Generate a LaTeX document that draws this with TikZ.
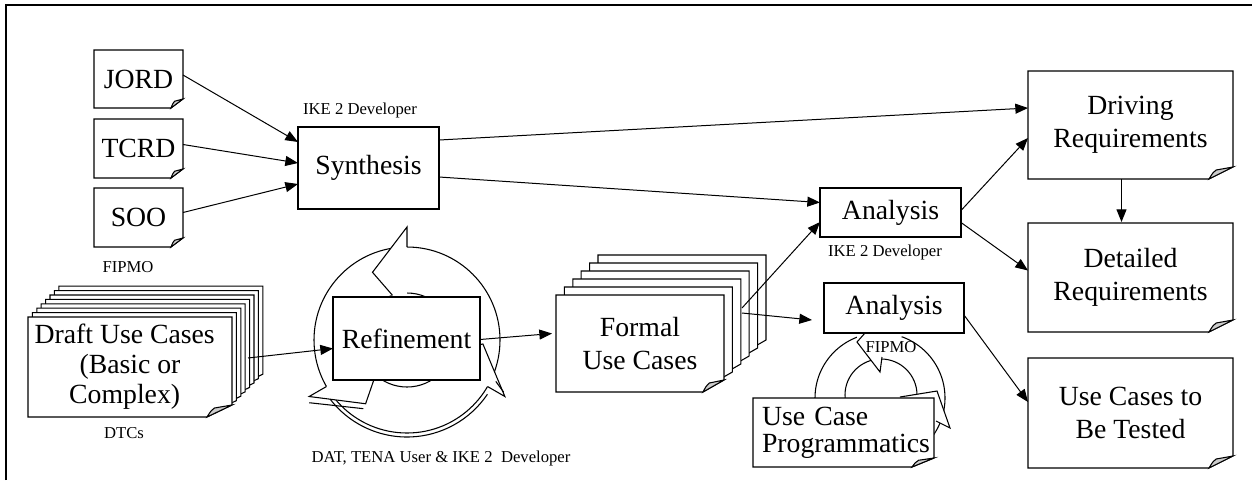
\documentclass[tikz,border=0pt]{standalone}
\usepackage{fontspec}
\setmainfont{Liberation Serif}
\usetikzlibrary{arrows.meta,calc}
\pgfdeclarelayer{bg}
\pgfsetlayers{bg,main}
\definecolor{foldgray}{gray}{0.8}
\tikzset{
  pxbox/.style n args={4}{minimum width={(#3-#1)*0.75pt}, minimum height={(#4-#2)*0.75pt}, at={({(#1+#3)/2},{(#2+#4)/2})}},
  basetext/.style={inner sep=0pt, outer sep=0pt, align=center, font=\fontsize{20.8}{25}\selectfont},
  procbox/.style={basetext, draw, fill=white, line width=0.8pt},
  docnode/.style={basetext},
  lbl/.style={inner sep=0pt, font=\fontsize{12.5}{14}\selectfont},
  conn/.style={line width=0.75pt, -{Triangle[length=9.5pt,width=7.5pt]}},
  docline/.style={line width=0.8pt, line join=miter},
  cyc/.style={line width=0.8pt},
}
% document frame (outline with cut corner) for node #1, shifted by (#2,#3), fold size #4 x #5
\newcommand\docframe[5]{%
  \path ($(#1.north west)+(#2,#3)$) coordinate (dA) ($(#1.south east)+(#2,#3)$) coordinate (dB);
  \draw[docline, fill=white] (dA) -- (dA -| dB) -- ($(dB)+(0,-#5)$) -- ($(dB)+(-#4,0)$) -- (dA |- dB) -- cycle;
}
\newcommand\docflap[3]{%
  \draw[docline, fill=foldgray] ($(#1.south east)+(-#2,0)$) .. controls ($(#1.south east)+(-0.85*#2,-0.5*#3)$) .. ($(#1.south east)+(-0.7*#2,-0.75*#3)$) -- ($(#1.south east)+(0,-#3)$) -- cycle;
}
\newcommand\padr{\hspace*{8pt}}
\begin{document}
\begin{tikzpicture}[x=0.75pt,y=-0.75pt]
\useasboundingbox (0,0) rectangle (1252,480);
\draw[line width=1.5pt] (6,480) -- (6,5) -- (1252,5);

% nodes
\node[docnode, pxbox={94}{50}{183}{108}] (jord) {JORD};
\node[docnode, pxbox={94}{119}{183}{178}] (tcrd) {TCRD};
\node[docnode, pxbox={94}{188}{183}{247}] (soo) {SOO};
\node[procbox, pxbox={298}{127}{439}{209}] (synth) {Synthesis};
\node[docnode, pxbox={28}{317}{232}{417}, font=\fontsize{20.8}{22.5}\selectfont] (draft) {Draft Use Cases\padr\\(Basic or\padr\\Complex)\padr};
\node[procbox, pxbox={333}{297}{480}{380}] (refine) {Refinement};
\node[docnode, pxbox={556}{295}{724}{392}] (formal) {Formal\\Use Cases};
\node[procbox, pxbox={820}{188}{961}{237}] (ana1) {Analysis};
\node[procbox, pxbox={824}{283}{964}{333}] (ana2) {Analysis};
\node[docnode, pxbox={753}{398}{934}{467}, align=left, text width={163*0.75pt}, inner xsep={9*0.75pt}, font=\fontsize{20.8}{20.5}\selectfont] (ucp) {Use Case\\Programmatics};
\node[docnode, pxbox={1028}{71}{1233}{179}] (driving) {Driving\\Requirements};
\node[docnode, pxbox={1028}{223}{1233}{332}] (detailed) {Detailed\\Requirements};
\node[docnode, pxbox={1028}{358}{1233}{468}] (tested) {Use Cases to\\Be Tested};

% labels
\node[lbl] (l1) at (360,110) {IKE 2 Developer};
\node[lbl] (l2) at (128,267) {FIPMO};
\node[lbl] (l3) at (124,433) {DTCs};
\node[lbl] (l4) at (441,458) {DAT, TENA User \& IKE 2\ \ Developer};
\node[lbl] (l5) at (885,252) {IKE 2 Developer};
\node[lbl] (l6) at (891,347) {FIPMO};

\begin{pgfonlayer}{bg}
  % big cycle around Refinement
  \coordinate (cA) at (407,340);
  \draw[cyc] (cA) circle[radius=93];
  \draw[cyc] (cA) circle[radius=47];
  \draw[cyc] ($(cA)+(-212:97)$) arc[start angle=-212, end angle=-326, radius=97];
  \foreach \t in {90,210,330}{
    \fill[white] ($(cA)+({-\t}:45)$) -- ($(cA)+({-\t}:113)$) -- ($(cA)+({-\t-27}:76)$) -- ($(cA)+({-\t-18}:45)$) arc[start angle={-\t-18}, end angle={-\t}, radius=45] -- cycle;
    \draw[cyc] ($(cA)+({-\t}:93)$) -- ($(cA)+({-\t}:113)$) -- ($(cA)+({-\t-27}:76)$) -- ($(cA)+({-\t-18}:47)$);
  }
  \draw[cyc] ($(cA)+(-211:114)+(0,4)$) -- ($(cA)+(-236:78)+(0,4)$);
  \draw[cyc] ($(cA)+(-331:114)+(-3,-3)$) -- ($(cA)+(-335:98)$);
  % small cycle under second Analysis
  \coordinate (cB) at (880,398);
  \coordinate (cB2) at (881,395);
  \draw[cyc] (cB) circle[radius=65];
  \draw[cyc] (cB2) circle[radius=36];
  \fill[white] (857,333) -- (857,342) -- (880,372) -- (882,357) -- (905,333) -- cycle;
  \draw[cyc] (865,333) -- (857,342) -- (880,372) -- (882,357);
  \fill[white] (900,397) -- (937,391) -- (950,428) -- (936,421) -- (920,410) -- cycle;
  \draw[cyc] (900,397) -- (937,391) -- (950,428) -- (936,421);

  % document frames
  \docframe{jord}{0}{0}{12}{9}\docflap{jord}{12}{9}
  \docframe{tcrd}{0}{0}{12}{9}\docflap{tcrd}{12}{9}
  \docframe{soo}{0}{0}{12}{9}\docflap{soo}{12}{9}
  \foreach \k in {7,6,...,1}{\docframe{draft}{4.4*\k}{-4.4*\k}{25}{12}}
  \docframe{draft}{0}{0}{25}{12}\docflap{draft}{25}{12}
  \foreach \k in {5,4,...,1}{\docframe{formal}{8.4*\k}{-8*\k}{21}{12}}
  \docframe{formal}{0}{0}{21}{12}\docflap{formal}{21}{12}
  \docframe{ucp}{0}{0}{22}{9}\docflap{ucp}{22}{9}
  \docframe{driving}{0}{0}{24}{12}\docflap{driving}{24}{12}
  \docframe{detailed}{0}{0}{24}{12}\docflap{detailed}{24}{12}
  \docframe{tested}{0}{0}{24}{12}\docflap{tested}{24}{12}
\end{pgfonlayer}

% connectors
\coordinate (draftout) at ($(draft.east)+(16,-9)$);
\coordinate (formalout1) at ($(formal.east)+(18,-35.5)$);
\coordinate (formalout2) at ($(formal.east)+(18,-30.5)$);
\draw[conn] ($(jord.east)+(0,-4)$) -- ($(synth.north west)+(0,15)$);
\draw[conn] ($(tcrd.east)+(0,-4)$) -- ($(synth.west)+(0,-5)$);
\draw[conn] ($(soo.east)+(0,-5)$) -- ($(synth.south west)+(0,-25)$);
\draw[conn] ($(synth.north east)+(0,13)$) -- ($(driving.north west)+(0,37)$);
\draw[conn] ($(synth.north east)+(0,50)$) -- ($(ana1.west)+(0,-10)$);
\draw[conn] (formalout1) -- ($(ana1.south west)+(0,-15)$);
\draw[conn] (formalout2) -- ($(ana2.south west)+(-12,-13)$);
\draw[conn] ($(ana1.east)+(0,-2)$) -- ($(driving.south west)+(0,-41)$);
\draw[conn] ($(ana1.east)+(0,10)$) -- ($(detailed.west)+(0,-7)$);
\draw[conn] ($(driving.south)+(-9,0)$) -- ($(detailed.north)+(-9,-1)$);
\draw[conn] ($(ana2.east)+(0,7)$) -- ($(tested.west)+(0,-11)$);
\draw[conn] (draftout) -- ($(refine.west)+(0,10)$);
\draw[conn] ($(refine.east)+(0,1)$) -- ($(formal.west)+(-4,-10)$);
\end{tikzpicture}
\end{document}
